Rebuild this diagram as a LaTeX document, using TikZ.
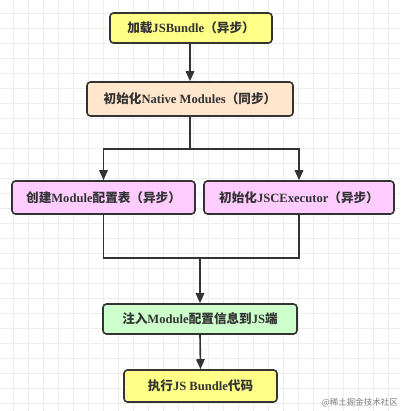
\documentclass[tikz,border=0pt]{standalone}
\usepackage{fontspec}
\setmainfont{Liberation Serif}
\newfontfamily\cjk{Noto Sans CJK SC}
\usetikzlibrary{arrows.meta}
\definecolor{ln}{HTML}{333333}
\definecolor{gridc}{HTML}{EDEDED}
\definecolor{cyellow}{HTML}{FFFF88}
\definecolor{cpeach}{HTML}{FFE6CC}
\definecolor{cpink}{HTML}{FFCCFF}
\definecolor{cgreen}{HTML}{CCFFCC}
\newcommand\cj[1]{{\cjk #1}}
\begin{document}
\begin{tikzpicture}[x=1pt,y=-1pt,
  box/.style={draw=ln, line width=1.6pt, rounded corners=3.5pt, text=ln,
    font=\bfseries\fontsize{12.6}{14}\selectfont, inner sep=0pt},
  arr/.style={draw=ln, line width=1.6pt, -{Triangle[length=10pt,width=8.5pt]}},
  con/.style={draw=ln, line width=1.6pt}]
\useasboundingbox (0,0) rectangle (400,411);
\fill[white] (0,0) rectangle (400,411);
\foreach \i in {0,...,26} {
  \draw[gridc, line width=0.6pt] (13+15*\i,0) -- (13+15*\i,411);
  \draw[gridc, line width=0.6pt] (0,13+15*\i) -- (400,13+15*\i);
}
\node[box, fill=cyellow, minimum width=162pt, minimum height=30pt] (n1) at (191,28)
  {\cj{加载}JSBundle\cj{（异步）}};
\node[box, fill=cpeach, minimum width=206pt, minimum height=34pt] (n2) at (190,99)
  {\cj{初始化}Native Modules\cj{（同步）}};
\node[box, fill=cpink, minimum width=183pt, minimum height=33pt] (n3) at (103.5,197.5)
  {\cj{创建}Module\cj{配置表（异步）}};
\node[box, fill=cpink, minimum width=190pt, minimum height=33pt] (n4) at (299,197.5)
  {\cj{初始化}JSCExecutor\cj{（异步）}};
\node[box, fill=cgreen, minimum width=194pt, minimum height=30pt] (n5) at (200,319)
  {\cj{注入}Module\cj{配置信息到}JS\cj{端}};
\node[box, fill=cyellow, minimum width=153pt, minimum height=32pt] (n6) at (200.5,386)
  {\cj{执行}JS Bundle\cj{代码}};
\node[text=gray, font=\cjk\fontsize{8.5}{10}\selectfont, anchor=east, inner sep=0pt] (wm) at (398,403)
  {@稀土掘金技术社区};
\coordinate (j1) at (190,149);
\coordinate (j2) at (200,258);
\draw[arr] (n1.south -| n2.north) -- (n2.north);
\draw[con] (n2.south) -- (j1);
\draw[arr] (j1) -| (n3.north);
\draw[arr] (j1) -| (n4.north);
\draw[con] (n3.south) |- (j2) -| (n4.south);
\draw[arr] (j2) -- (n5.north);
\draw[arr] (n5.south) -- (n6.north);
\end{tikzpicture}
\end{document}
